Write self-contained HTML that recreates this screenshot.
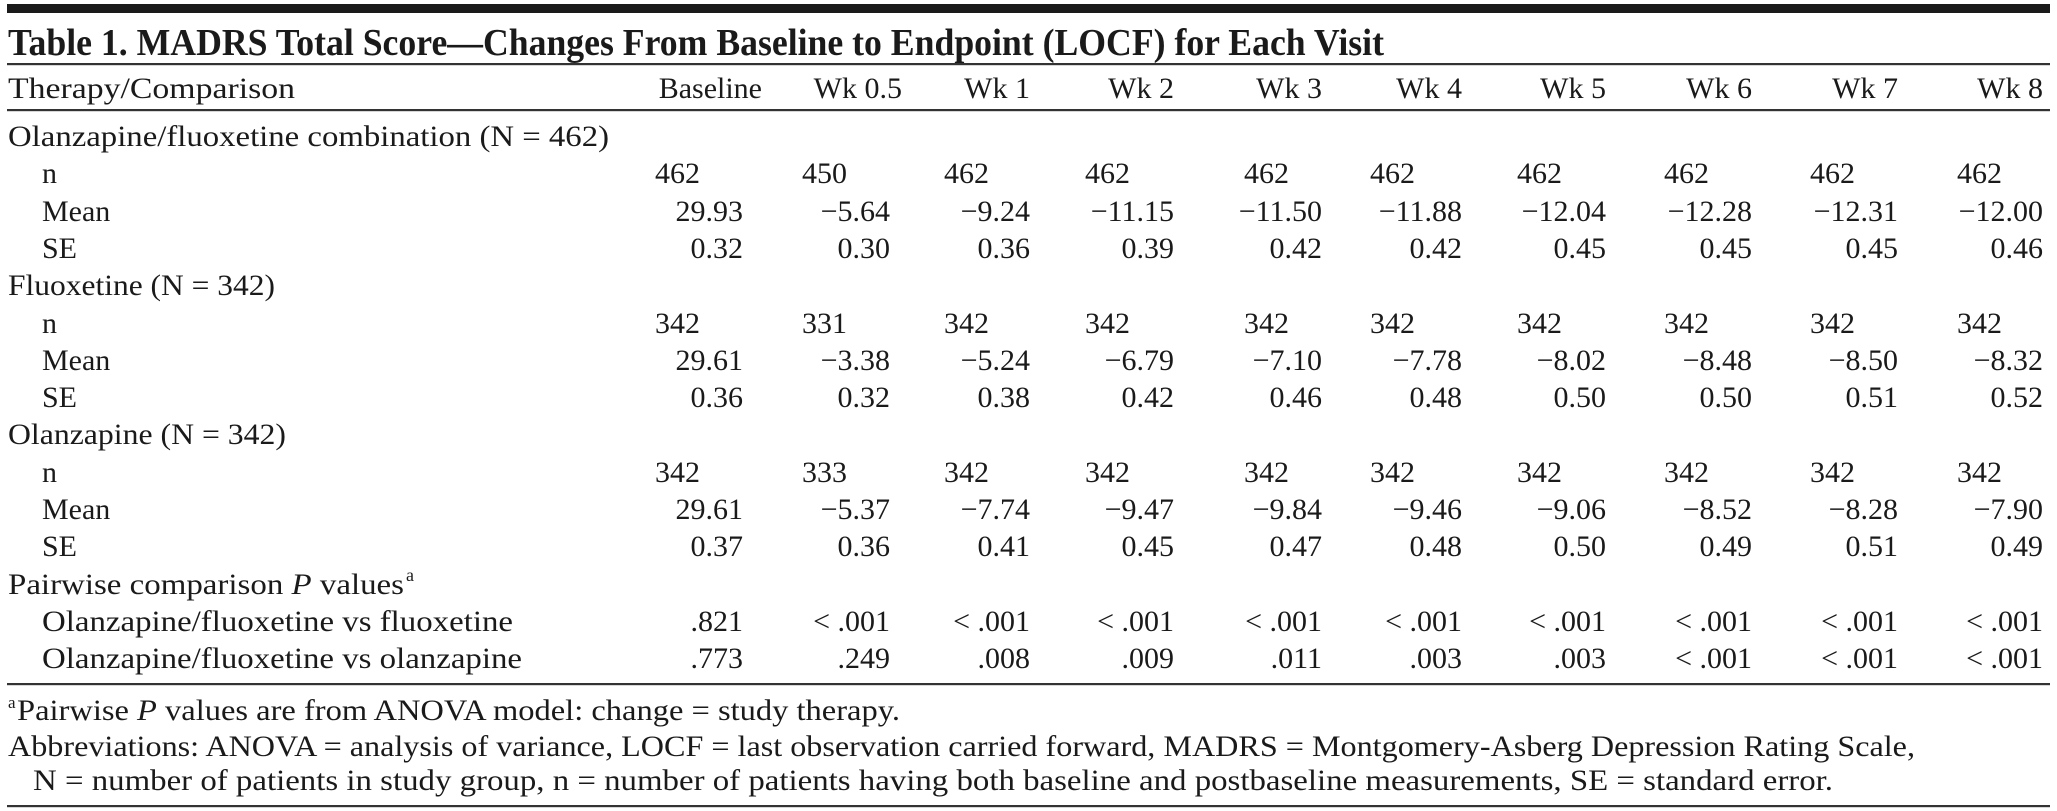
<!DOCTYPE html>
<html><head><meta charset="utf-8"><style>
html,body{margin:0;padding:0;background:#fff;}
svg{display:block;}
text{font-family:"Liberation Serif",serif;fill:#1a1a1a;font-size:30px;}
.t{font-weight:bold;font-size:38px;}
.r{text-anchor:end;}
</style></head><body>
<svg width="2057" height="811" viewBox="0 0 2057 811" xmlns="http://www.w3.org/2000/svg">
<rect x="7" y="4" width="2043" height="9" fill="#1a1a1a"/>
<text class="t" x="8" y="55" textLength="1376" lengthAdjust="spacingAndGlyphs">Table 1. MADRS Total Score—Changes From Baseline to Endpoint (LOCF) for Each Visit</text>
<rect x="7" y="63" width="2043" height="2.2" fill="#333"/>
<text x="8" y="98" textLength="287" lengthAdjust="spacingAndGlyphs">Therapy/Comparison</text>
<g>
<text class="r" x="762" y="98">Baseline</text>
<text class="r" x="902" y="98">Wk 0.5</text>
<text class="r" x="1030" y="98">Wk 1</text>
<text class="r" x="1174" y="98">Wk 2</text>
<text class="r" x="1322" y="98">Wk 3</text>
<text class="r" x="1462" y="98">Wk 4</text>
<text class="r" x="1606" y="98">Wk 5</text>
<text class="r" x="1752" y="98">Wk 6</text>
<text class="r" x="1898" y="98">Wk 7</text>
<text class="r" x="2043" y="98">Wk 8</text>
</g>
<rect x="7" y="109" width="2043" height="2.2" fill="#333"/>

<text x="8" y="146" textLength="601" lengthAdjust="spacingAndGlyphs">Olanzapine/fluoxetine combination (N = 462)</text>
<text x="42" y="183">n</text>
<text x="42" y="221">Mean</text>
<text x="42" y="258">SE</text>
<text x="8" y="295" textLength="267" lengthAdjust="spacingAndGlyphs">Fluoxetine (N = 342)</text>
<text x="42" y="333">n</text>
<text x="42" y="370">Mean</text>
<text x="42" y="407">SE</text>
<text x="8" y="444" textLength="278" lengthAdjust="spacingAndGlyphs">Olanzapine (N = 342)</text>
<text x="42" y="482">n</text>
<text x="42" y="519">Mean</text>
<text x="42" y="556">SE</text>
<text x="8" y="594" textLength="396" lengthAdjust="spacingAndGlyphs">Pairwise comparison <tspan font-style="italic">P</tspan> values</text>
<text x="406" y="581" style="font-size:18px">a</text>
<text x="42" y="631" textLength="471" lengthAdjust="spacingAndGlyphs">Olanzapine/fluoxetine vs fluoxetine</text>
<text x="42" y="668" textLength="480" lengthAdjust="spacingAndGlyphs">Olanzapine/fluoxetine vs olanzapine</text>

<g>
<text x="655" y="183">462</text><text x="802" y="183">450</text><text x="944" y="183">462</text><text x="1085" y="183">462</text><text x="1244" y="183">462</text><text x="1370" y="183">462</text><text x="1517" y="183">462</text><text x="1664" y="183">462</text><text x="1810" y="183">462</text><text x="1957" y="183">462</text>
<text x="655" y="333">342</text><text x="802" y="333">331</text><text x="944" y="333">342</text><text x="1085" y="333">342</text><text x="1244" y="333">342</text><text x="1370" y="333">342</text><text x="1517" y="333">342</text><text x="1664" y="333">342</text><text x="1810" y="333">342</text><text x="1957" y="333">342</text>
<text x="655" y="482">342</text><text x="802" y="482">333</text><text x="944" y="482">342</text><text x="1085" y="482">342</text><text x="1244" y="482">342</text><text x="1370" y="482">342</text><text x="1517" y="482">342</text><text x="1664" y="482">342</text><text x="1810" y="482">342</text><text x="1957" y="482">342</text>
</g>
<g>
<text class="r" x="743" y="221">29.93</text><text class="r" x="890" y="221">−5.64</text><text class="r" x="1030" y="221">−9.24</text><text class="r" x="1174" y="221">−11.15</text><text class="r" x="1322" y="221">−11.50</text><text class="r" x="1462" y="221">−11.88</text><text class="r" x="1606" y="221">−12.04</text><text class="r" x="1752" y="221">−12.28</text><text class="r" x="1898" y="221">−12.31</text><text class="r" x="2043" y="221">−12.00</text>
<text class="r" x="743" y="258">0.32</text><text class="r" x="890" y="258">0.30</text><text class="r" x="1030" y="258">0.36</text><text class="r" x="1174" y="258">0.39</text><text class="r" x="1322" y="258">0.42</text><text class="r" x="1462" y="258">0.42</text><text class="r" x="1606" y="258">0.45</text><text class="r" x="1752" y="258">0.45</text><text class="r" x="1898" y="258">0.45</text><text class="r" x="2043" y="258">0.46</text>
<text class="r" x="743" y="370">29.61</text><text class="r" x="890" y="370">−3.38</text><text class="r" x="1030" y="370">−5.24</text><text class="r" x="1174" y="370">−6.79</text><text class="r" x="1322" y="370">−7.10</text><text class="r" x="1462" y="370">−7.78</text><text class="r" x="1606" y="370">−8.02</text><text class="r" x="1752" y="370">−8.48</text><text class="r" x="1898" y="370">−8.50</text><text class="r" x="2043" y="370">−8.32</text>
<text class="r" x="743" y="407">0.36</text><text class="r" x="890" y="407">0.32</text><text class="r" x="1030" y="407">0.38</text><text class="r" x="1174" y="407">0.42</text><text class="r" x="1322" y="407">0.46</text><text class="r" x="1462" y="407">0.48</text><text class="r" x="1606" y="407">0.50</text><text class="r" x="1752" y="407">0.50</text><text class="r" x="1898" y="407">0.51</text><text class="r" x="2043" y="407">0.52</text>
<text class="r" x="743" y="519">29.61</text><text class="r" x="890" y="519">−5.37</text><text class="r" x="1030" y="519">−7.74</text><text class="r" x="1174" y="519">−9.47</text><text class="r" x="1322" y="519">−9.84</text><text class="r" x="1462" y="519">−9.46</text><text class="r" x="1606" y="519">−9.06</text><text class="r" x="1752" y="519">−8.52</text><text class="r" x="1898" y="519">−8.28</text><text class="r" x="2043" y="519">−7.90</text>
<text class="r" x="743" y="556">0.37</text><text class="r" x="890" y="556">0.36</text><text class="r" x="1030" y="556">0.41</text><text class="r" x="1174" y="556">0.45</text><text class="r" x="1322" y="556">0.47</text><text class="r" x="1462" y="556">0.48</text><text class="r" x="1606" y="556">0.50</text><text class="r" x="1752" y="556">0.49</text><text class="r" x="1898" y="556">0.51</text><text class="r" x="2043" y="556">0.49</text>
<text class="r" x="743" y="631">.821</text><text class="r" x="890" y="631">&lt; .001</text><text class="r" x="1030" y="631">&lt; .001</text><text class="r" x="1174" y="631">&lt; .001</text><text class="r" x="1322" y="631">&lt; .001</text><text class="r" x="1462" y="631">&lt; .001</text><text class="r" x="1606" y="631">&lt; .001</text><text class="r" x="1752" y="631">&lt; .001</text><text class="r" x="1898" y="631">&lt; .001</text><text class="r" x="2043" y="631">&lt; .001</text>
<text class="r" x="743" y="668">.773</text><text class="r" x="890" y="668">.249</text><text class="r" x="1030" y="668">.008</text><text class="r" x="1174" y="668">.009</text><text class="r" x="1322" y="668">.011</text><text class="r" x="1462" y="668">.003</text><text class="r" x="1606" y="668">.003</text><text class="r" x="1752" y="668">&lt; .001</text><text class="r" x="1898" y="668">&lt; .001</text><text class="r" x="2043" y="668">&lt; .001</text>
</g>
<rect x="7" y="683" width="2043" height="2.2" fill="#333"/>

<text x="8" y="708" style="font-size:17px">a</text>
<text x="17" y="720" textLength="883" lengthAdjust="spacingAndGlyphs">Pairwise <tspan font-style="italic">P</tspan> values are from ANOVA model: change = study therapy.</text>
<text x="8" y="756" textLength="1907" lengthAdjust="spacingAndGlyphs">Abbreviations: ANOVA = analysis of variance, LOCF = last observation carried forward, MADRS = Montgomery-Asberg Depression Rating Scale,</text>
<text x="33" y="790" textLength="1800" lengthAdjust="spacingAndGlyphs">N = number of patients in study group, n = number of patients having both baseline and postbaseline measurements, SE = standard error.</text>
<rect x="7" y="805" width="2043" height="2.2" fill="#333"/>
</svg>
</body></html>
